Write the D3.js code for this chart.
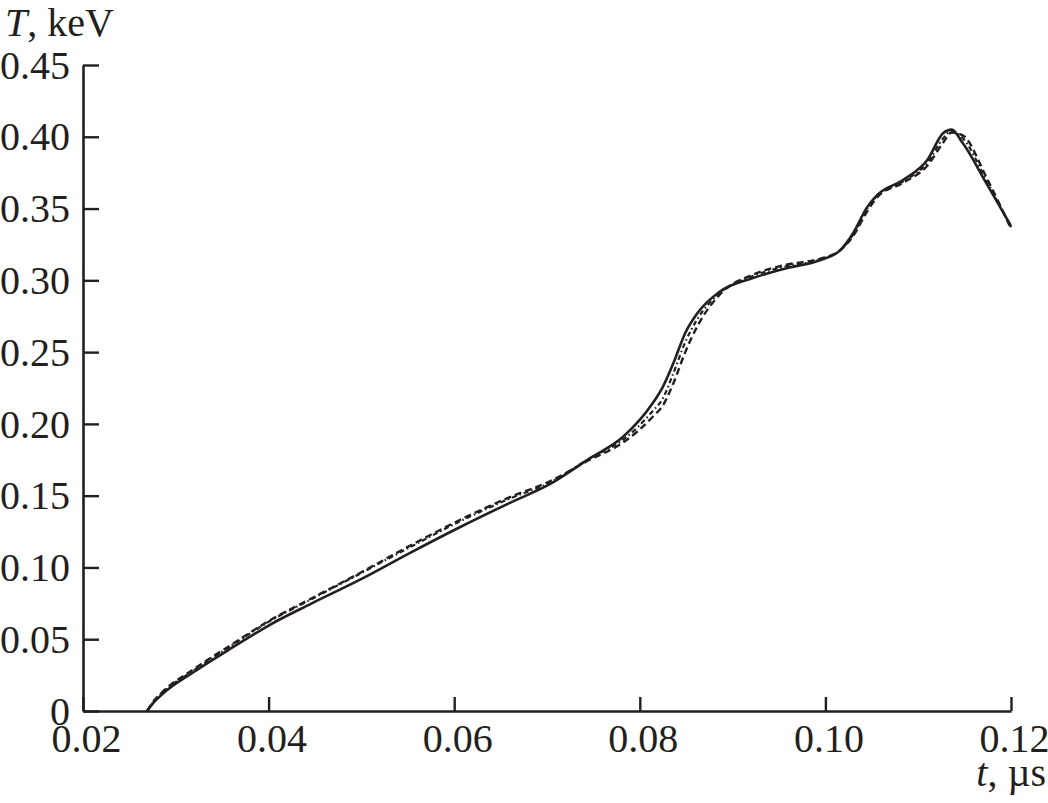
<!DOCTYPE html>
<html>
<head>
<meta charset="utf-8">
<script src="https://cdn.jsdelivr.net/npm/d3@7"></script>
<style>
  html, body { margin: 0; padding: 0; background: #fff; }
  svg { display: block; }
  text { font-family: "Liberation Serif", "Times New Roman", serif; fill: #231f20; }
</style>
</head>
<body>
<div id="chart"></div>
<script>
// ── Data (t in µs, T in keV) ────────────────────────────────
const times = [0.0269, 0.0275, 0.0286, 0.0319, 0.0362, 0.0401, 0.0445, 0.0498, 0.0552, 0.0606,
  0.066, 0.0703, 0.0746, 0.0782, 0.0814, 0.0825, 0.0836, 0.0849, 0.0862, 0.0886,
  0.0922, 0.0959, 0.0994, 0.1016, 0.103, 0.1045, 0.1056, 0.1084, 0.111, 0.1127,
  0.1136, 0.1148, 0.1174, 0.12];

const solidT = [0, 0.005, 0.012, 0.027, 0.0446, 0.0599, 0.0745, 0.0913, 0.110, 0.128,
  0.145, 0.158, 0.176, 0.191, 0.2145, 0.226, 0.242, 0.2633, 0.277, 0.292,
  0.3016, 0.3086, 0.314, 0.321, 0.333, 0.351, 0.3595, 0.370, 0.384, 0.4026,
  0.405, 0.3956, 0.367, 0.338];

const dashedT = [0, 0.006, 0.0135, 0.029, 0.047, 0.063, 0.078, 0.096, 0.115, 0.133,
  0.149, 0.160, 0.175, 0.187, 0.205, 0.213, 0.228, 0.250, 0.268, 0.290,
  0.304, 0.311, 0.315, 0.321, 0.331, 0.348, 0.358, 0.368, 0.380, 0.396,
  0.403, 0.401, 0.371, 0.336];

const dotDashT = [0, 0.0055, 0.013, 0.028, 0.0465, 0.0625, 0.0775, 0.0955, 0.114, 0.132,
  0.148, 0.159, 0.176, 0.189, 0.209, 0.218, 0.235, 0.257, 0.273, 0.291,
  0.303, 0.310, 0.3145, 0.321, 0.332, 0.350, 0.359, 0.369, 0.382, 0.399,
  0.404, 0.399, 0.369, 0.337];

const xTicks = [0.02, 0.04, 0.06, 0.08, 0.10, 0.12];
const xTickLabels = ['0.02', '0.04', '0.06', '0.08', '0.10', '0.12'];
const yTicks = [0, 0.05, 0.10, 0.15, 0.20, 0.25, 0.30, 0.35, 0.40, 0.45];
const yTickLabels = ['0', '0.05', '0.10', '0.15', '0.20', '0.25', '0.30', '0.35', '0.40', '0.45'];

// ── Layout ───────────────────────────────────────────────
const width = 1048, height = 803;
const margin = { top: 65, right: 37, bottom: 92, left: 83 };
const W = width - margin.left - margin.right;
const H = height - margin.top - margin.bottom;
const ink = '#231f20';

const svg = d3.select('#chart').append('svg')
  .attr('width', width)
  .attr('height', height);

const g = svg.append('g')
  .attr('transform', `translate(${margin.left},${margin.top})`);

const x = d3.scaleLinear().domain([0.02, 0.12]).range([0, W]);
const y = d3.scaleLinear().domain([0, 0.45]).range([H, 0]);

// ── Axes (ticks point inward) ────────────────────────────
const axisStyle = sel => sel
  .call(a => a.select('.domain').attr('stroke', ink).attr('stroke-width', 2.6))
  .call(a => a.selectAll('.tick line').attr('stroke', ink).attr('stroke-width', 2.4))
  .call(a => a.selectAll('.tick text')
    .attr('fill', ink)
    .attr('font-family', '"Liberation Serif", serif')
    .attr('font-size', 40));

g.append('g')
  .attr('transform', `translate(0,${H})`)
  .call(d3.axisBottom(x)
    .tickValues(xTicks)
    .tickFormat((d, i) => xTickLabels[i])
    .tickSizeInner(-14)
    .tickSizeOuter(0)
    .tickPadding(13))
  .call(axisStyle)
  .call(a => a.selectAll('.tick text').attr('dx', 3));

g.append('g')
  .call(d3.axisLeft(y)
    .tickValues(yTicks)
    .tickFormat((d, i) => yTickLabels[i])
    .tickSizeInner(-16)
    .tickSizeOuter(0)
    .tickPadding(13))
  .call(axisStyle)
  .call(a => a.selectAll('.tick text').attr('dy', '0.33em'));

// ── Curves ───────────────────────────────────────────────
const series = [
  { values: dotDashT, dash: '5,3,1.5,3', w: 2.2 },
  { values: dashedT,  dash: '7,4',       w: 2.4 },
  { values: solidT,   dash: null,        w: 2.6 },
];

const line = d3.line()
  .x((d, i) => x(times[i]))
  .y(d => y(d))
  .curve(d3.curveMonotoneX);

g.selectAll('.curve')
  .data(series)
  .join('path')
  .attr('class', 'curve')
  .attr('fill', 'none')
  .attr('stroke', ink)
  .attr('stroke-width', d => d.w)
  .attr('stroke-dasharray', d => d.dash)
  .attr('stroke-linejoin', 'round')
  .attr('d', d => line(d.values));

// ── Axis titles ──────────────────────────────────────────
const yTitle = svg.append('text')
  .attr('x', 5).attr('y', 36)
  .attr('font-size', 40);
yTitle.append('tspan').attr('font-style', 'italic').text('T');
yTitle.append('tspan').text(', keV');

const xTitle = svg.append('text')
  .attr('x', 1046).attr('y', 786)
  .attr('text-anchor', 'end')
  .attr('font-size', 40);
xTitle.append('tspan').attr('font-style', 'italic').text('t');
xTitle.append('tspan').text(', µs');
</script>
</body>
</html>
